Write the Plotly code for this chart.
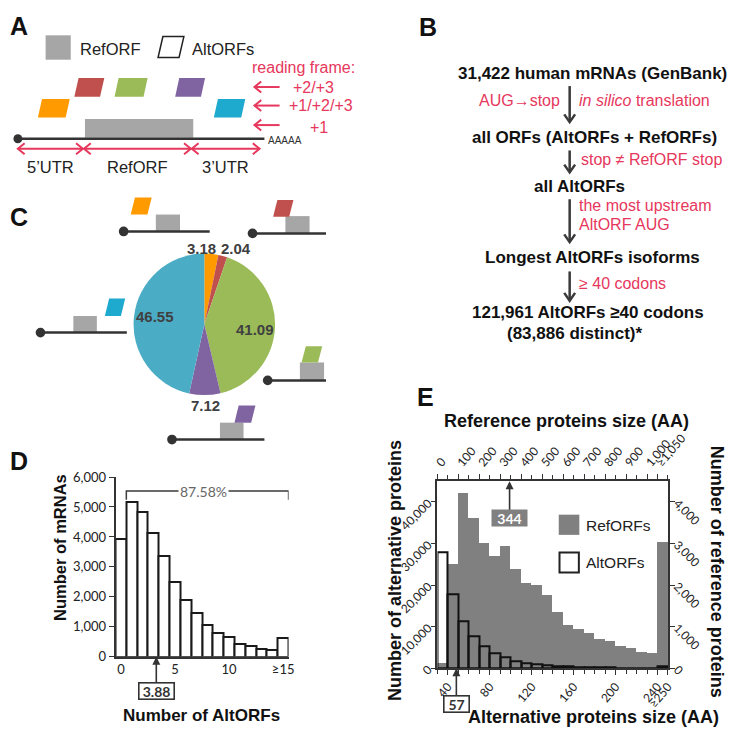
import plotly.graph_objects as go

W, H = 755, 740
ARIAL = "Liberation Sans, Arial, sans-serif"
CAL = "Lato, Carlito, sans-serif"
PINK = "#E6375C"
DARK = "#333333"

# ---------------- data ----------------
pie_labels = ["5'UTR", "5'UTR/CDS", "CDS", "CDS/3'UTR", "3'UTR"]
pie_values = [3.18, 2.04, 41.09, 7.12, 46.55]
pie_colors = ["#FF9A00", "#C0504D", "#9BBB59", "#8064A2", "#4BACC6"]

d_altorfs = [0, 1, 2, 3, 4, 5, 6, 7, 8, 9, 10, 11, 12, 13, 14, 15]
d_mrnas = [3930, 5150, 4830, 4140, 3360, 2500, 1900, 1460, 1060, 790, 670, 430, 360, 270, 240, 630]
d_xtickvals = [0, 5, 10, 15]
d_xticktext = ["0", "5", "10", "\u226515"]
d_ytickvals = [0, 1000, 2000, 3000, 4000, 5000, 6000]
d_yticktext = ["0", "1,000", "2,000", "3,000", "4,000", "5,000", "6,000"]

alt_size = [35, 45, 55, 65, 75, 85, 95, 105, 115, 125, 135, 145, 155, 165, 175, 185, 195, 205, 215, 225, 235, 245]
alt_counts = [27800, 17800, 11400, 7800, 5400, 3650, 2550, 1800, 1250, 950, 700, 550, 450, 330, 250, 200, 160, 130, 100, 80, 70, 390]
ref_size = [25, 75, 125, 175, 225, 275, 325, 375, 425, 475, 525, 575, 625, 675, 725, 775, 825, 875, 925, 975, 1025, 1075]
ref_counts = [115, 2510, 4215, 3615, 3005, 2695, 2925, 2380, 2040, 2000, 1750, 1340, 1040, 935, 835, 700, 640, 520, 490, 390, 365, 3040]

alt_tickvals = [40, 80, 120, 160, 200, 240, 250]
alt_ticktext = ["40", "80", "120", "160", "200", "240", "\u2265250"]
ref_tickvals = [0, 100, 200, 300, 400, 500, 600, 700, 800, 900, 1000, 1050]
ref_ticktext = ["0", "100", "200", "300", "400", "500", "600", "700", "800", "900", "1,000", "\u22651,050"]
altn_tickvals = [0, 10000, 20000, 30000, 40000]
altn_ticktext = ["0", "10,000", "20,000", "30,000", "40,000"]
refn_tickvals = [0, 1000, 2000, 3000, 4000]
refn_ticktext = ["0", "1,000", "2,000", "3,000", "4,000"]


# ---------------- helpers (pixel -> paper) ----------------
def X(p):
    return p / W


def Y(p):
    return 1 - p / H


shapes = []
ann = []


def seg(x0, y0, x1, y1, color, width=2):
    shapes.append(dict(type="line", xref="paper", yref="paper", x0=X(x0), y0=Y(y0), x1=X(x1), y1=Y(y1),
                       line=dict(color=color, width=width)))


def poly(pts, fill=None, lc=None, width=0, closed=True):
    d = "M " + " L ".join(f"{X(a):.5f},{Y(b):.5f}" for a, b in pts) + (" Z" if closed else "")
    shapes.append(dict(type="path", xref="paper", yref="paper", path=d,
                       fillcolor=fill if fill else "rgba(0,0,0,0)",
                       line=dict(color=lc if lc else "rgba(0,0,0,0)", width=width)))


def rect(x0, y0, x1, y1, fill, lc=None, width=0):
    shapes.append(dict(type="rect", xref="paper", yref="paper", x0=X(x0), x1=X(x1), y0=Y(y1), y1=Y(y0),
                       fillcolor=fill, line=dict(color=lc if lc else "rgba(0,0,0,0)", width=width)))


def dot(cx, cy, r, color):
    shapes.append(dict(type="circle", xref="paper", yref="paper", x0=X(cx - r), x1=X(cx + r), y0=Y(cy + r),
                       y1=Y(cy - r), fillcolor=color, line=dict(width=0)))


def para(xl, yb, w, h, skew, fill, lc=None, width=0):
    poly([(xl, yb), (xl + w, yb), (xl + w + skew, yb - h), (xl + skew, yb - h)], fill, lc, width)


def chevron(tx, ty, dx, dy, size, color, width, half=0.8):
    bx, by = tx - dx * size, ty - dy * size
    ox, oy = -dy * size * half, dx * size * half
    poly([(bx + ox, by + oy), (tx, ty), (bx - ox, by - oy)], None, color, width, closed=False)


def txt(x, y, s, size=16, color="#222222", family=ARIAL, xanchor="center", yanchor="middle", angle=0):
    ann.append(dict(xref="paper", yref="paper", x=X(x), y=Y(y), text=s, showarrow=False,
                    font=dict(size=size, color=color, family=family), xanchor=xanchor, yanchor=yanchor,
                    textangle=angle))


# ---------------- Panel A ----------------
txt(14, 18, "<b>A</b>", 25, "#111111")
rect(42, 28, 68, 53, "#A6A6A6")
txt(76, 42, "RefORF", 16.5, "#222222", xanchor="left")
para(158.3, 50.7, 21.7, 21.4, 5, "white", "#222222", 1.5)
txt(191, 42, "AltORFs", 16.5, "#222222", xanchor="left")
para(71.7, 91, 26.6, 19.3, 4.4, "#C0504D")
para(113.3, 91, 30, 19.3, 4.2, "#9BBB59")
para(176, 91, 26.7, 19.3, 4.2, "#8064A2")
para(34, 112.3, 28.7, 19, 4.3, "#FF9A00")
para(216, 112.3, 28.3, 19, 4.2, "#1EA9CE")
rect(82.7, 113.7, 194.7, 133, "#A6A6A6")
seg(13.3, 134, 268.3, 134, DARK, 2.5)
dot(13.3, 134, 4.6, DARK)
txt(270, 135.5, "AAAAA", 10, DARK, xanchor="left")
# region double arrows
for a, b in [(13.3, 80.5), (81.7, 192.2), (193.2, 263.3)]:
    seg(a, 144.3, b, 144.3, PINK, 2)
    chevron(a, 144.3, -1, 0, 7, PINK, 2)
    chevron(b, 144.3, 1, 0, 7, PINK, 2)
for cx, lab in zip([46.7, 137, 228], ["5\u2019UTR", "RefORF", "3\u2019UTR"]):
    txt(cx, 163, lab, 16.5, "#222222")
# reading frames
txt(253, 61, "reading frame:", 16, PINK, xanchor="left")
for yy in [81, 100, 120]:
    seg(259, yy, 284, yy, PINK, 2)
    chevron(258, yy, -1, 0, 7, PINK, 2)
txt(296, 81, "+2/+3", 16, PINK, xanchor="left")
txt(292, 100, "+1/+2/+3", 16, PINK, xanchor="left")
txt(313, 122, "+1", 16, PINK, xanchor="left")

# ---------------- Panel B ----------------
txt(437, 19, "<b>B</b>", 25, "#111111")
txt(607.5, 66.7, "<b>31,422 human mRNAs (GenBank)</b>", 17, "#111111")
txt(576, 94.5, "AUG\u2192stop", 16, PINK, xanchor="right")
txt(591.7, 95, "<i>in silico</i> translation", 16, PINK, xanchor="left")
txt(610, 132.7, "<b>all ORFs (AltORFs + RefORFs)</b>", 17, "#111111")
txt(594, 155, "stop \u2260 RefORF stop", 16, PINK, xanchor="left")
txt(594, 182.7, "<b>all AltORFs</b>", 17, "#111111")
txt(591.7, 202.3, "the most upstream", 16, PINK, xanchor="left")
txt(591.7, 221.7, "AltORF AUG", 16, PINK, xanchor="left")
txt(607.5, 256, "<b>Longest AltORFs isoforms</b>", 17, "#111111")
txt(591.7, 282.7, "\u2265 40 codons", 16, PINK, xanchor="left")
txt(603, 311.7, "<b>121,961 AltORFs \u226540 codons</b>", 17, "#111111")
txt(589, 333.3, "<b>(83,886 distinct)*</b>", 17, "#111111")
for y0, y1 in [(80, 117), (146, 168.5), (196, 240), (270, 300)]:
    seg(584, y0, 584, y1 - 1, "#3A3A3A", 2.5)
    chevron(584, y1, 0, 1, 8, "#3A3A3A", 2.5, half=0.7)

# ---------------- Panel C ----------------
txt(14, 214, "<b>C</b>", 25, "#111111")
GREY = "#A6A6A6"


def glyph(dx, ly, lx1, rx0, rw, rh, pxl, pyb, pw, ph, color):
    rect(rx0, ly - rh, rx0 + rw, ly, GREY)
    para(pxl, pyb, pw, ph, 4.4, color)
    seg(dx, ly, lx1, ly, DARK, 2.5)
    dot(dx, ly, 5, DARK)


glyph(122.7, 229, 211.7, 156, 25, 17.3, 130, 211.7, 17.3, 17.4, "#FF9A00")
glyph(256, 231, 332, 290, 25, 17.7, 277.3, 214, 16.6, 17.3, "#C0504D")
glyph(36.7, 332.7, 126, 70.7, 24.3, 17, 103.3, 315.7, 16.6, 18, "#1EA9CE")
glyph(271.7, 381.7, 332, 305, 25, 18.4, 306.7, 363.3, 17, 16.6, "#9BBB59")
glyph(172.7, 442.3, 268.3, 222.3, 24.4, 17.3, 237.3, 425, 17.3, 17.7, "#8064A2")

pie_label_pos = [(203.3, 246.7), (239.3, 246.7), (258.3, 330), (207.3, 407.3), (155, 315.7)]
for v, (lx, ly) in zip(pie_values, pie_label_pos):
    txt(lx, ly, f"<b>{v:.2f}</b>", 15, "#404040")

# ---------------- Panel D ----------------
txt(14, 464, "<b>D</b>", 25, "#111111")
shapes.append(dict(type="path", xref="x3", yref="y3", path="M 0.5,5240 L 0.5,5530 L 15.5,5530 L 15.5,5240",
                   line=dict(color="#3A3A3A", width=1.5)))
ann.append(dict(xref="x3", yref="y3", x=7.68, y=5530, text="87.58%", showarrow=False, bgcolor="white",
                font=dict(family=CAL, size=14, color="#666666"), borderpad=1))
ann.append(dict(xref="x3", yref="y3", x=3.27, y=0, text="<b>3.88</b>", showarrow=True, ax=0, ay=34,
                arrowhead=2, arrowsize=1, arrowwidth=1.6, arrowcolor="#333333", bgcolor="white",
                bordercolor="#333333", borderwidth=1.6, borderpad=1, width=32, height=13,
                font=dict(family=CAL, size=14, color="#333333")))
txt(57, 553.3, "<b>Number of mRNAs</b>", 16.5, "#111111", angle=-90)
txt(203.3, 725, "<b>Number of AltORFs</b>", 17, "#111111")

# ---------------- Panel E ----------------
txt(435, 399, "<b>E</b>", 25, "#111111")
txt(581, 423.3, "<b>Reference proteins size (AA)</b>", 18, "#111111")
txt(608.3, 726.7, "<b>Alternative proteins size (AA)</b>", 18, "#111111")
txt(403.3, 576, "<b>Number of alternative proteins</b>", 18, "#111111", angle=-90)
txt(736.7, 578, "<b>Number of reference proteins</b>", 18, "#111111", angle=90)
rect(572.7, 519.3, 594, 540, "#808080")
txt(599, 530, "RefORFs", 15.5, "#222222", xanchor="left")
rect(573.5, 558, 593.5, 578.5, "white", "#222222", 2)
txt(599, 568, "AltORFs", 15.5, "#222222", xanchor="left")
ann.append(dict(xref="x", yref="y", x=344, y=4500, text="<b>344</b>", showarrow=True, ax=0, ay=37,
                arrowhead=2, arrowsize=1, arrowwidth=1.6, arrowcolor="#333333", bgcolor="#808080",
                borderpad=1, width=33, height=14, font=dict(family=CAL, size=14, color="white")))
ann.append(dict(xref="x2", yref="y2", x=48, y=0, text="<b>57</b>", showarrow=True, ax=0, ay=36,
                arrowhead=2, arrowsize=1, arrowwidth=1.6, arrowcolor="#333333", bgcolor="white",
                bordercolor="#333333", borderwidth=1.6, borderpad=1, width=22, height=13,
                font=dict(family=CAL, size=14, color="#333333")))

# ---------------- traces ----------------
fig = go.Figure()
fig.add_trace(go.Pie(values=pie_values, labels=pie_labels, sort=False, direction="clockwise", rotation=0,
                     marker=dict(colors=pie_colors, line=dict(width=0)), textinfo="none",
                     domain=dict(x=[X(132.3), X(280)], y=[Y(396.7), Y(251.7)]), showlegend=False))
fig.add_trace(go.Bar(x=d_altorfs, y=d_mrnas, xaxis="x3", yaxis="y3",
                     marker=dict(color="white", line=dict(color="#1A1A1A", width=2))))
fig.add_trace(go.Bar(x=ref_size, y=ref_counts, xaxis="x", yaxis="y", name="RefORFs",
                     marker=dict(color="#808080", line=dict(width=0))))
fig.add_trace(go.Bar(x=alt_size, y=alt_counts, xaxis="x2", yaxis="y2", name="AltORFs",
                     marker=dict(color="rgba(0,0,0,0)", line=dict(color="#111111", width=2))))

tickD = dict(family=CAL, size=13, color="#222222")
tickE = dict(family=CAL, size=12, color="#222222")
axbase = dict(showline=True, linecolor="#333333", linewidth=1.5, showgrid=False, zeroline=False,
              ticks="outside", ticklen=5, tickcolor="#333333", tickwidth=1.3, fixedrange=True)
axD = dict(axbase, tickfont=tickD)
axE = dict(axbase, tickfont=tickE)

fig.update_layout(
    width=W, height=H, autosize=False, margin=dict(l=0, r=0, t=0, b=0, pad=0),
    paper_bgcolor="white", plot_bgcolor="white",
    showlegend=False, bargap=0,
    xaxis=dict(domain=[X(447.3), X(685.7)], range=[0, 1100], side="top", anchor="y",
               tickmode="array", tickvals=ref_tickvals, ticktext=ref_ticktext, tickangle=-50,
               minor=dict(dtick=50, tick0=0, ticks="outside", ticklen=4, tickcolor="#333333"), **axE),
    yaxis=dict(domain=[Y(676.7), Y(485)], range=[0, 4500], side="right", anchor="x",
               tickmode="array", tickvals=refn_tickvals, ticktext=refn_ticktext, tickangle=45, **axE),
    xaxis2=dict(overlaying="x", range=[30, 250], side="bottom", anchor="y2",
                tickmode="array", tickvals=alt_tickvals, ticktext=alt_ticktext, tickangle=-50,
                minor=dict(dtick=10, tick0=30, ticks="outside", ticklen=4, tickcolor="#333333"), **axE),
    yaxis2=dict(overlaying="y", range=[0, 45000], side="left", anchor="x2",
                tickmode="array", tickvals=altn_tickvals, ticktext=altn_ticktext, tickangle=-45, **axE),
    xaxis3=dict(domain=[X(114.3), X(293.3)], range=[-0.5, 15.5], anchor="y3",
                tickmode="array", tickvals=d_xtickvals, ticktext=d_xticktext,
                **{**axD, "ticks": ""}),
    yaxis3=dict(domain=[Y(665), Y(480.7)], range=[0, 6000], anchor="x3",
                tickmode="array", tickvals=d_ytickvals, ticktext=d_yticktext, **axD),
    shapes=shapes,
    annotations=ann,
)

fig.write_html("out.html", config={"responsive": False, "displayModeBar": False},
               post_script="document.body.style.margin='0px';document.body.style.overflow='hidden';")
